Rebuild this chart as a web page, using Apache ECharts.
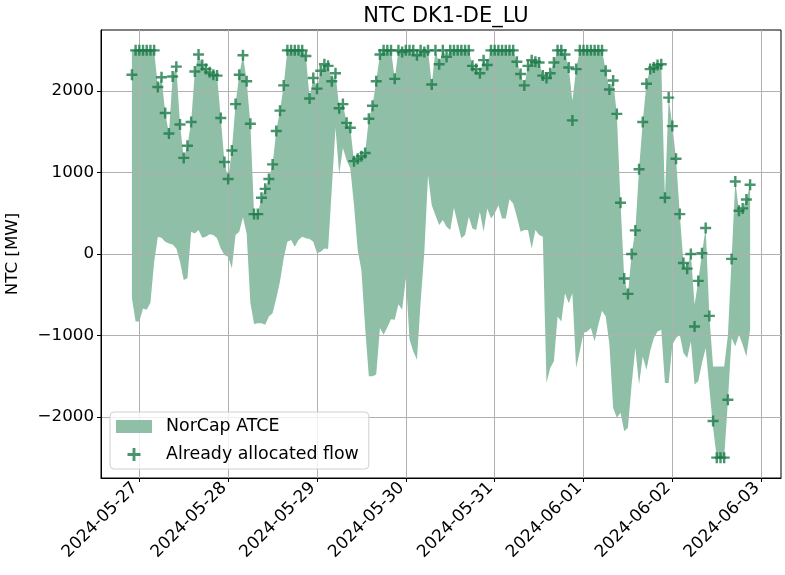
<!DOCTYPE html>
<html>
<head>
<meta charset="utf-8">
<script src="https://cdn.jsdelivr.net/npm/echarts@6/dist/echarts.min.js"></script>
<style>
  html, body { margin: 0; padding: 0; background: #fff; }
  #chart { width: 785px; height: 575px; }
</style>
</head>
<body>
<div id="chart"></div>
<script>
  // hourly points, first one at 2024-05-26 22:00
  var startTime = Date.UTC(2024, 4, 26, 22)
  var hour = 3600 * 1000
  var dayTicks = ['2024-05-27', '2024-05-28', '2024-05-29', '2024-05-30',
    '2024-05-31', '2024-06-01', '2024-06-02', '2024-06-03']
  var yTicks = [-2000, -1000, 0, 1000, 2000]

  var allocatedFlow = [
    2200, 2500, 2500, 2500, 2500, 2500, 2500, 2050, 2170, 1730,
    1480, 2180, 2300, 1590, 1180, 1330, 1620, 2240, 2450, 2320,
    2270, 2230, 2200, 2190, 1670, 1130, 920, 1270, 1840, 2200,
    2440, 2120, 1600, 490, 490, 690, 800, 920, 1100, 1510,
    1760, 2070, 2500, 2500, 2500, 2500, 2500, 2430, 1910, 2160,
    2030, 2250, 2330, 2310, 2120, 2220, 1790, 1840, 1610, 1550,
    1140, 1170, 1200, 1240, 1660, 1820, 2120, 2450, 2500, 2500,
    2500, 2150, 2500, 2480, 2500, 2500, 2500, 2440, 2500, 2480,
    2500, 2080, 2500, 2330, 2500, 2420, 2500, 2500, 2500, 2500,
    2500, 2500, 2310, 2270, 2220, 2380, 2320, 2500, 2500, 2500,
    2500, 2500, 2500, 2500, 2360, 2210, 2070, 2310, 2380, 2360,
    2350, 2190, 2160, 2220, 2350, 2500, 2500, 2450, 2290, 1640,
    2270, 2500, 2500, 2500, 2500, 2500, 2500, 2500, 2250, 2020,
    2130, 1720, 630, -300, -490, 0, 290, 1040, 1620, 2090,
    2270, 2290, 2320, 2330, 690, 1920, 1570, 1170, 490, -110,
    -180, 0, -890, -330, 10, 320, -760, -2050, -2500, -2500,
    -2500, -1790, -60, 890, 530, 560, 670, 850
  ]

  var atceUpper = [
    2500, 2500, 2500, 2500, 2500, 2500, 2500, 2050, 2170, 1730,
    1480, 2180, 2300, 1590, 1180, 1330, 1620, 2240, 2450, 2320,
    2270, 2230, 2200, 2190, 1670, 1130, 920, 1270, 1840, 2200,
    2440, 2120, 1600, 490, 490, 690, 800, 920, 1100, 1510,
    1760, 2070, 2500, 2500, 2500, 2500, 2500, 2430, 1910, 2160,
    2030, 2250, 2330, 2310, 2120, 2220, 1790, 1840, 1610, 1550,
    1140, 1170, 1200, 1240, 1660, 1820, 2120, 2450, 2500, 2500,
    2500, 2150, 2500, 2480, 2500, 2500, 2500, 2440, 2500, 2480,
    2500, 2080, 2500, 2330, 2500, 2420, 2500, 2500, 2500, 2500,
    2500, 2500, 2310, 2270, 2220, 2380, 2320, 2500, 2500, 2500,
    2500, 2500, 2500, 2500, 2360, 2210, 2070, 2310, 2380, 2360,
    2350, 2190, 2160, 2220, 2350, 2500, 2500, 2450, 2290, 1880,
    2270, 2500, 2500, 2500, 2500, 2500, 2500, 2500, 2250, 2020,
    2130, 1720, 630, -300, -490, 0, 290, 1040, 1620, 2090,
    2270, 2290, 2320, 2330, 690, 1920, 1570, 1170, 490, -110,
    -180, 0, -620, -330, 10, 320, -760, -1380, -1380, -1380,
    -1380, -1000, -60, 890, 530, 560, 670, 850
  ]

  var atceLower = [
    -540, -830, -830, -670, -685, -600, -100, 212, 200, 150,
    130, 118, 69, -94, -318, -298, 273, 253, 294, 200,
    212, 241, 233, 192, 69, -12, -33, -175, 233, 273,
    450, 250, -600, -860, -850, -849, -869, -767, -726, -543,
    -339, -53, 151, 171, 90, 171, 212, 192, 184, 151,
    10, 29, 69, 60, 800, 1550, 980, 1300, 1150, 1050,
    600, 50, -200, -900, -1500, -1500, -1480, -910, -991, -900,
    -800, -808, -616, -685, -300, -1050, -1195, -1297, -583, 29,
    967, 600, 477, 355, 416, 335, 294, 567, 375, 192,
    233, 457, 314, 294, 518, 273, 559, 437, 498, 600,
    437, 437, 673, 620, 457, 273, 294, 294, 69, 294,
    233, 212, -1583, -1399, -1318, -767, -828, -481, -604, -481,
    -1399, -1195, -971, -951, -910, -1073, -869, -698, -767, -1114,
    -1889, -2011, -1950, -2175, -2134, -1603, -1154, -1603, -1257, -1420,
    -1195, -1032, -951, -930, -1583, -1583, -1114, -1032, -991, -1216,
    -1277, -1073, -1603, -1563, -1338, -1154, -1644, -2134, -2500, -2500,
    -2500, -1807, -1032, -1134, -991, -1114, -1257, -930
  ]

  var times = allocatedFlow.map(function (v, i) { return startTime + i * hour })
  var span = times[times.length - 1] - times[0]
  var dayValues = dayTicks.map(function (d) { return Date.parse(d + 'T00:00:00Z') })
  var fillColor = '#8fbfa6'
  var markColor = '#1b7a49'
  var plus = 'path://M3.9,0H6.1V3.9H10V6.1H6.1V10H3.9V6.1H0V3.9H3.9Z'
  var font = 'DejaVu Sans'

  // one polygon between the upper and lower ATCE edges
  function renderBand(params, api) {
    if (params.dataIndex !== 0) return null
    var pts = []
    for (var i = 0; i < times.length; i++) pts.push(api.coord([times[i], atceUpper[i]]))
    for (var j = times.length - 1; j >= 0; j--) pts.push(api.coord([times[j], atceLower[j]]))
    return { type: 'polygon', shape: { points: pts }, style: { fill: fillColor } }
  }

  var chart = echarts.init(document.getElementById('chart'))
  chart.setOption({
    backgroundColor: '#fff',
    animation: false,
    title: {
      text: 'NTC DK1-DE_LU',
      left: 441,
      top: 1,
      textAlign: 'center',
      textStyle: { fontFamily: font, fontSize: 21, fontWeight: 'normal', color: '#000' }
    },
    grid: {
      left: 101, right: 4, top: 30, bottom: 97,
      containLabel: false,
      outerBoundsMode: 'none',
      show: true,
      borderColor: '#000',
      borderWidth: 1
    },
    legend: {
      orient: 'vertical',
      left: 110,
      top: 412,
      z: 10,
      padding: [6, 10, 6, 6],
      itemWidth: 36,
      itemHeight: 13,
      itemGap: 11,
      backgroundColor: 'rgba(255,255,255,0.8)',
      borderColor: '#d0d0d0',
      borderWidth: 1,
      borderRadius: 4,
      textStyle: { fontFamily: font, fontSize: 17.4, color: '#000', padding: [0, 0, 0, 9] },
      data: [
        { name: 'NorCap ATCE', icon: 'rect', itemStyle: { color: fillColor } },
        { name: 'Already allocated flow', icon: plus, itemStyle: { color: markColor } }
      ]
    },
    xAxis: {
      type: 'value',
      z: 3,
      min: times[0] - span * 0.05,
      max: times[times.length - 1] + span * 0.05,
      axisLine: { show: true, onZero: false, lineStyle: { color: '#000', width: 1 } },
      axisTick: { show: true, length: 4, lineStyle: { color: '#000' }, customValues: dayValues },
      axisLabel: {
        rotate: 45, margin: 3, padding: [0, 6, 0, 0],
        fontFamily: font, fontSize: 17, color: '#000',
        customValues: dayValues,
        formatter: function (v) { return new Date(v).toISOString().slice(0, 10) }
      },
      splitLine: { show: true, lineStyle: { color: '#b0b0b0', width: 1 } }
    },
    yAxis: {
      type: 'value',
      z: 3,
      min: -2750,
      max: 2750,
      name: 'NTC [MW]',
      nameLocation: 'middle',
      nameGap: 80,
      nameTextStyle: { fontFamily: font, fontSize: 16.7, color: '#000' },
      axisLine: { show: true, onZero: false, lineStyle: { color: '#000', width: 1 } },
      axisTick: { show: true, length: 4, lineStyle: { color: '#000' }, customValues: yTicks },
      axisLabel: {
        margin: 7, fontFamily: font, fontSize: 16.7, color: '#000',
        customValues: yTicks,
        formatter: function (v) { return String(v).replace('-', '\u2212') }
      },
      splitLine: { show: true, lineStyle: { color: '#b0b0b0', width: 1 } }
    },
    series: [
      {
        name: 'NorCap ATCE',
        type: 'custom',
        z: 1,
        silent: true,
        itemStyle: { color: fillColor },
        encode: { x: 0, y: [1, 2] },
        renderItem: renderBand,
        data: times.map(function (t, i) { return [t, atceLower[i], atceUpper[i]] })
      },
      {
        name: 'Already allocated flow',
        type: 'scatter',
        z: 5,
        symbol: plus,
        symbolSize: 11,
        itemStyle: { color: markColor },
        data: times.map(function (t, i) { return [t, allocatedFlow[i]] })
      }
    ]
  })
</script>
</body>
</html>
